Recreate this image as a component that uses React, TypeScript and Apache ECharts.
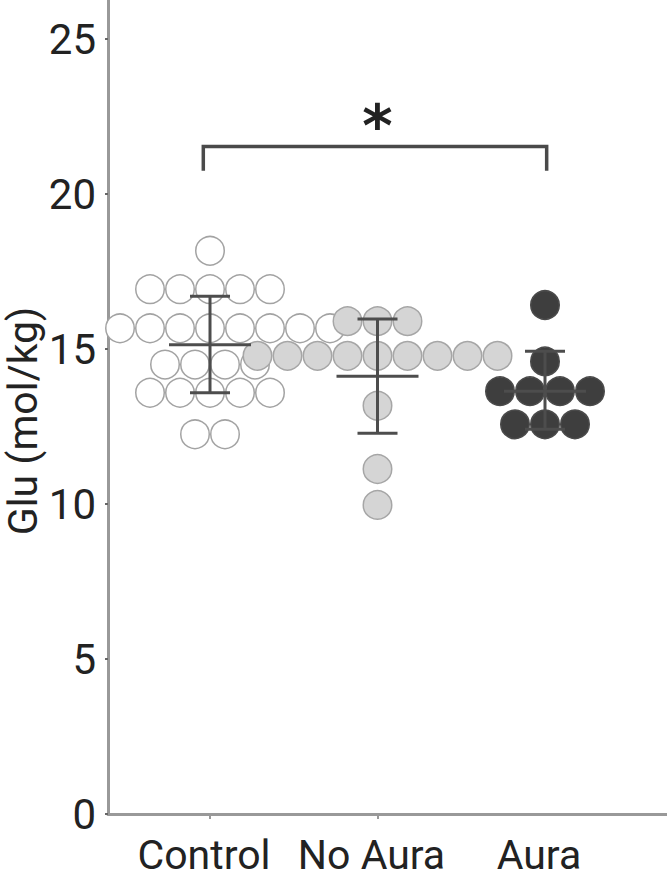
import React, { useEffect, useRef } from "react";
import * as echarts from "echarts";

const groups = ["Control", "No Aura", "Aura"];
const yTicks = [0, 5, 10, 15, 20, 25];

// Glu values (mol/kg) and beeswarm slot (in circle diameters from group centre)
const controlGlu = [
  18.17,
  16.93, 16.93, 16.93, 16.93, 16.93,
  15.67, 15.67, 15.67, 15.67, 15.67, 15.67, 15.67, 15.67,
  14.5, 14.5, 14.5, 14.5,
  13.59, 13.59, 13.59, 13.59, 13.59,
  12.25, 12.25,
];
const controlSlot = [
  0,
  -2, -1, 0, 1, 2,
  -3, -2, -1, 0, 1, 2, 3, 4,
  -1.5, -0.5, 0.5, 1.5,
  -2, -1, 0, 1, 2,
  -0.5, 0.5,
];
const noAuraGlu = [
  15.9, 15.9, 15.9,
  14.78, 14.78, 14.78, 14.78, 14.78, 14.78, 14.78, 14.78, 14.78,
  13.17, 11.13, 9.97,
];
const noAuraSlot = [-1, 0, 1, -4, -3, -2, -1, 0, 1, 2, 3, 4, 0, 0, 0];
const auraGlu = [16.42, 14.6, 13.64, 13.64, 13.64, 13.64, 12.57, 12.57, 12.57];
const auraSlot = [0, 0, -1.5, -0.5, 0.5, 1.5, -1, 0, 1];

const means = [15.14, 14.12, 13.64];
const lowers = [13.59, 12.28, 12.41];
const uppers = [16.7, 15.97, 14.93];

// significance bracket: from x, to x, top y, end y; star position
const bracketSpan = [0.96, 3.01];
const bracketLevels = [21.53, 20.75];
const starAt = [2.0, 22.2];

const SLOT = 30 / 167.5;

function points(values: number[], slots: number[], g: number) {
  return values.map((v, i) => [g + slots[i] * SLOT, v]);
}

export default function App() {
  const ref = useRef<HTMLDivElement>(null);
  useEffect(() => {
    if (!ref.current) return;
    const chart = echarts.init(ref.current, null, { renderer: "svg" });
    const font = "Roboto";
    const option: any = {
      animation: false,
      grid: { left: 108, right: 0, top: 0, bottom: 55 },
      xAxis: {
        type: "value",
        min: 0.391,
        max: 3.7284,
        splitLine: { show: false },
        axisLine: { show: true, lineStyle: { color: "#999", width: 3 } },
        axisTick: { show: true, customValues: [1, 2], length: 5, lineStyle: { color: "#999", width: 2 } },
        axisLabel: {
          customValues: [1, 2, 3],
          formatter: (v: number) => groups[Math.round(v) - 1] ?? "",
          fontFamily: font,
          fontSize: 41,
          color: "#222",
          margin: 20,
          padding: [0, 12, 0, 0],
        },
      },
      yAxis: {
        type: "value",
        min: 0,
        max: 26.26,
        splitLine: { show: false },
        axisLine: { show: true, lineStyle: { color: "#999", width: 3 } },
        axisTick: { show: true, customValues: yTicks, length: 3, lineStyle: { color: "#666", width: 2 } },
        axisLabel: {
          customValues: yTicks,
          fontFamily: font,
          fontSize: 42,
          color: "#222",
          margin: 12,
        },
      },
      graphic: [
        {
          type: "text",
          x: 23,
          y: 421,
          rotation: Math.PI / 2,
          style: {
            text: "Glu (mol/kg)",
            fontFamily: font,
            fontSize: 41,
            fill: "#222",
            align: "center",
            verticalAlign: "middle",
          },
        },
      ],
      series: [
        {
          type: "scatter",
          data: points(controlGlu, controlSlot, 1),
          symbolSize: 28.5,
          itemStyle: { color: "#ffffff", borderColor: "#a3a3a3", borderWidth: 1.5, opacity: 1 },
        },
        {
          type: "scatter",
          data: points(noAuraGlu, noAuraSlot, 2),
          symbolSize: 28.5,
          itemStyle: { color: "#d5d5d5", borderColor: "#a6a6a6", borderWidth: 1.5, opacity: 1 },
        },
        {
          type: "scatter",
          data: points(auraGlu, auraSlot, 3),
          symbolSize: 28.5,
          itemStyle: { color: "#3e3e3e", borderColor: "#4a4a4a", borderWidth: 1.5, opacity: 1 },
        },
        {
          type: "custom",
          data: means.map((m, i) => [i + 1, m, lowers[i], uppers[i]]),
          encode: { x: 0, y: [1, 2, 3] },
          z: 5,
          renderItem: (params: any, api: any) => {
            const x = api.value(0);
            const pm = api.coord([x, api.value(1)]);
            const pl = api.coord([x, api.value(2)]);
            const ph = api.coord([x, api.value(3)]);
            const st = { stroke: "#4d4d4d", lineWidth: 3 };
            return {
              type: "group",
              children: [
                { type: "line", shape: { x1: pm[0] - 41, y1: pm[1], x2: pm[0] + 41, y2: pm[1] }, style: st },
                { type: "line", shape: { x1: pl[0], y1: pl[1], x2: ph[0], y2: ph[1] }, style: st },
                { type: "line", shape: { x1: pl[0] - 20, y1: pl[1], x2: pl[0] + 20, y2: pl[1] }, style: st },
                { type: "line", shape: { x1: ph[0] - 20, y1: ph[1], x2: ph[0] + 20, y2: ph[1] }, style: st },
              ],
            };
          },
        },
        {
          type: "custom",
          data: [[bracketSpan[0], bracketSpan[1], bracketLevels[0], bracketLevels[1], starAt[0], starAt[1]]],
          encode: { x: [0, 1, 4], y: [2, 3, 5] },
          z: 5,
          renderItem: (params: any, api: any) => {
            const a = api.coord([api.value(0), api.value(2)]);
            const b = api.coord([api.value(1), api.value(2)]);
            const aEnd = api.coord([api.value(0), api.value(3)]);
            const bEnd = api.coord([api.value(1), api.value(3)]);
            const s = api.coord([api.value(4), api.value(5)]);
            return {
              type: "group",
              children: [
                {
                  type: "polyline",
                  shape: { points: [aEnd, a, b, bEnd] },
                  style: { stroke: "#4a4a4a", lineWidth: 3.5, fill: "none" },
                },
                {
                  type: "text",
                  x: s[0],
                  y: s[1],
                  style: {
                    text: "*",
                    fontFamily: "DejaVu Sans",
                    fontWeight: "bold",
                    fontSize: 58,
                    fill: "#222",
                    align: "center",
                    verticalAlign: "middle",
                  },
                },
              ],
            };
          },
        },
      ],
    };
    chart.setOption(option);
    return () => chart.dispose();
  }, []);
  return (
    <div
      ref={ref}
      style={{ position: "fixed", left: 0, top: 0, width: 667, height: 875, background: "#fff" }}
    />
  );
}
